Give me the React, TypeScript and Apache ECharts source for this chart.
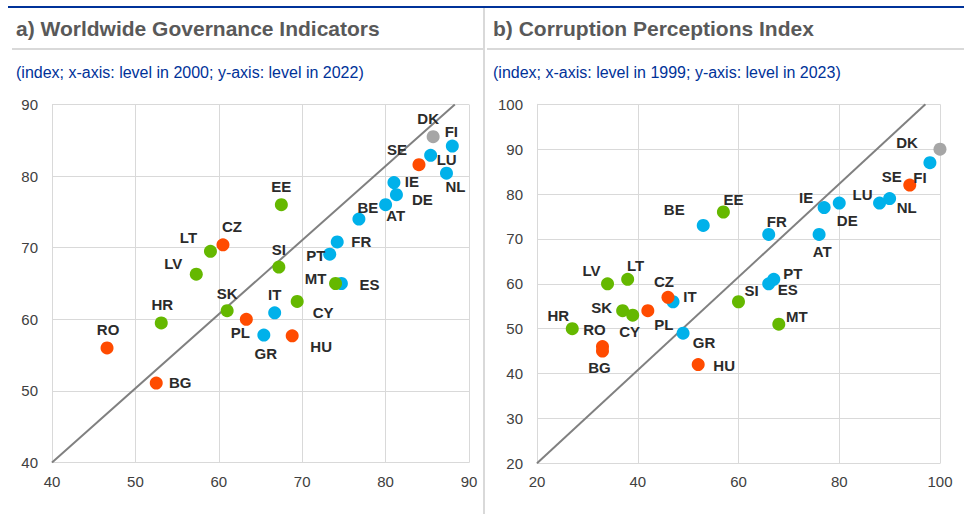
import React, { useEffect, useRef } from 'react';
import * as echarts from 'echarts';

// ---------- Data ----------
// Panel a) Worldwide Governance Indicators (x: 2000, y: 2022)
const countriesA = ['DK', 'FI', 'LU', 'SE', 'NL', 'IE', 'DE', 'AT', 'BE', 'EE', 'FR', 'PT', 'SI', 'MT', 'ES', 'CZ', 'LT', 'LV', 'SK', 'HR', 'RO', 'BG', 'PL', 'GR', 'IT', 'CY', 'HU'];
const level2000 = [85.7, 88.0, 85.4, 84.0, 87.3, 81.0, 81.3, 80.0, 76.8, 67.5, 74.2, 73.3, 67.2, 74.0, 74.7, 60.5, 59.0, 57.3, 61.0, 53.1, 46.6, 52.5, 63.3, 65.4, 66.7, 69.4, 68.8];
const level2022 = [85.5, 84.2, 82.9, 81.6, 80.4, 79.1, 77.4, 76.0, 74.0, 76.0, 70.8, 69.1, 67.3, 65.0, 65.0, 70.4, 69.5, 66.3, 61.2, 59.5, 56.0, 51.1, 60.0, 57.8, 60.9, 62.5, 57.7];
const diagonalA = [[40, 40], [88.3, 90]];

// Panel b) Corruption Perceptions Index (x: 1999, y: 2023)
const countriesB = ['DK', 'FI', 'SE', 'NL', 'LU', 'DE', 'IE', 'AT', 'FR', 'BE', 'EE', 'PT', 'ES', 'SI', 'MT', 'LV', 'LT', 'CZ', 'IT', 'HR', 'SK', 'CY', 'PL', 'RO', 'BG', 'GR', 'HU'];
const level1999 = [100, 98, 94, 90, 88, 80, 77, 76, 66, 53, 57, 67, 66, 60, 68, 34, 38, 46, 47, 27, 37, 39, 42, 33, 33, 49, 52];
const level2023 = [90, 87, 82, 79, 78, 78, 77, 71, 71, 73, 76, 61, 60, 56, 51, 60, 61, 57, 56, 50, 54, 53, 54, 46, 45, 49, 42];
const diagonalB = [[20, 20], [97.1, 100]];

// Country groups
const grey = ['DK'];
const nonEuro = ['SE', 'CZ', 'PL', 'HU', 'RO', 'BG'];
const newEuro = ['EE', 'LT', 'LV', 'SI', 'MT', 'SK', 'HR', 'CY'];
const oldEuro = ['FI', 'LU', 'NL', 'IE', 'DE', 'AT', 'BE', 'FR', 'PT', 'ES', 'IT', 'GR'];

// Tick labels
const ticksAx = { min: 40, max: 90, interval: 10 };
const ticksAy = { min: 40, max: 90, interval: 10 };
const ticksBx = { min: 20, max: 100, interval: 20 };
const ticksBy = { min: 20, max: 100, interval: 10 };

// ---------- Layout / style ----------
const labelOffsetA: Record<string, [number, number]> = {
  DK: [-5, -18], FI: [-1, -15], SE: [-22, -15], LU: [16, 4], NL: [9, 13], IE: [18, -1], DE: [26, 5], AT: [10, 11],
  BE: [9, -12], EE: [0, -18], FR: [24, 0], PT: [-14, 1], SI: [0, -18], MT: [-20, -5], ES: [28, 1], CZ: [9, -18],
  LT: [-22, -14], LV: [-23, -11], SK: [0, -17], HR: [1, -18], RO: [1, -18], BG: [24, -1], PL: [-6, 13], GR: [2, 18],
  IT: [0, -18], CY: [26, 11], HU: [29, 11],
};
const labelOffsetB: Record<string, [number, number]> = {
  BE: [-29, -16], EE: [10, -13], LV: [-16, -13], LT: [8, -14], CZ: [-4, -16], IT: [17, -5], DK: [-33, -7], FI: [-10, 15],
  SE: [-18, -9], LU: [-17, -9], NL: [17, 9], IE: [-18, -10], DE: [8, 17], FR: [8, -13], AT: [3, 17], PT: [19, -6],
  ES: [19, 6], SI: [13, -11], MT: [18, -8], HR: [-14, -13], SK: [-21, -3], CY: [-3, 16], PL: [16, 14], RO: [-8, -17],
  BG: [-3, 16], GR: [21, 9], HU: [26, 1],
};

const groupDefs = [
  { members: oldEuro, color: '#00b1ea' },
  { members: newEuro, color: '#65b800' },
  { members: nonEuro, color: '#ff4b00' },
  { members: grey, color: '#a6a6a6' },
];

const FONT = '"Liberation Sans", Arial, sans-serif';
const GRID_COLOR = '#d9d9d9';

function buildSeries(countries: string[], xs: number[], ys: number[], offsets: Record<string, [number, number]>, idx: number) {
  return groupDefs.map((g) => ({
    type: 'scatter',
    xAxisIndex: idx,
    yAxisIndex: idx,
    symbolSize: 13,
    z: 3,
    itemStyle: { color: g.color, opacity: 1 },
    label: {
      show: true,
      position: 'inside',
      formatter: '{b}',
      fontFamily: FONT,
      fontSize: 15,
      fontWeight: 'bold',
      color: '#2b2b2b',
    },
    data: countries
      .map((c, i) => ({ c, i }))
      .filter(({ c }) => g.members.includes(c))
      .map(({ c, i }) => ({
        name: c,
        value: [xs[i], ys[i]],
        label: { offset: offsets[c] || [0, 0] },
      })),
  }));
}

function axis(t: { min: number; max: number; interval: number }, idx: number, isY: boolean) {
  return {
    type: 'value',
    gridIndex: idx,
    min: t.min,
    max: t.max,
    interval: t.interval,
    axisLine: { show: true, lineStyle: { color: GRID_COLOR, width: 1 } },
    axisTick: { show: false },
    splitLine: { show: true, lineStyle: { color: GRID_COLOR, width: 1 } },
    axisLabel: {
      fontFamily: FONT,
      fontSize: 15,
      color: '#404040',
      margin: isY ? 14 : 11,
    },
  };
}

export default function App() {
  const ref = useRef<HTMLDivElement>(null);
  useEffect(() => {
    if (!ref.current) return;
    const chart = echarts.init(ref.current, undefined, { renderer: 'svg' });
    const option = {
      animation: false,
      backgroundColor: '#ffffff',
      grid: [
        { left: 52, top: 104.5, width: 417, height: 358 },
        { left: 537, top: 104.3, width: 403, height: 359 },
      ],
      xAxis: [axis(ticksAx, 0, false), axis(ticksBx, 1, false)],
      yAxis: [axis(ticksAy, 0, true), axis(ticksBy, 1, true)],
      series: [
        {
          type: 'line',
          xAxisIndex: 0,
          yAxisIndex: 0,
          data: diagonalA,
          symbol: 'none',
          z: 2,
          lineStyle: { color: '#808080', width: 2 },
          silent: true,
        },
        {
          type: 'line',
          xAxisIndex: 1,
          yAxisIndex: 1,
          data: diagonalB,
          symbol: 'none',
          z: 2,
          lineStyle: { color: '#808080', width: 2 },
          silent: true,
        },
        ...buildSeries(countriesA, level2000, level2022, labelOffsetA, 0),
        ...buildSeries(countriesB, level1999, level2023, labelOffsetB, 1),
      ],
      graphic: [
        { type: 'rect', shape: { x: 8, y: 6, width: 956, height: 2 }, style: { fill: '#003299' } },
        { type: 'rect', shape: { x: 483, y: 8, width: 2, height: 506 }, style: { fill: GRID_COLOR } },
        { type: 'rect', shape: { x: 12, y: 48, width: 471, height: 2 }, style: { fill: GRID_COLOR } },
        { type: 'rect', shape: { x: 487, y: 48, width: 477, height: 2 }, style: { fill: GRID_COLOR } },
        {
          type: 'text', x: 16, y: 28,
          style: { text: 'a) Worldwide Governance Indicators', fontFamily: FONT, fontWeight: 'bold', fontSize: 21, fill: '#595959', verticalAlign: 'middle' },
        },
        {
          type: 'text', x: 493, y: 28,
          style: { text: 'b) Corruption Perceptions Index', fontFamily: FONT, fontWeight: 'bold', fontSize: 21, fill: '#595959', verticalAlign: 'middle' },
        },
        {
          type: 'text', x: 16, y: 72,
          style: { text: '(index; x-axis: level in 2000; y-axis: level in 2022)', fontFamily: FONT, fontSize: 16, fill: '#003299', verticalAlign: 'middle' },
        },
        {
          type: 'text', x: 493, y: 72,
          style: { text: '(index; x-axis: level in 1999; y-axis: level in 2023)', fontFamily: FONT, fontSize: 16, fill: '#003299', verticalAlign: 'middle' },
        },
      ],
    };
    chart.setOption(option as any);
    return () => chart.dispose();
  }, []);
  return <div ref={ref} style={{ position: 'absolute', left: 0, top: 0, width: 965, height: 514 }} />;
}
